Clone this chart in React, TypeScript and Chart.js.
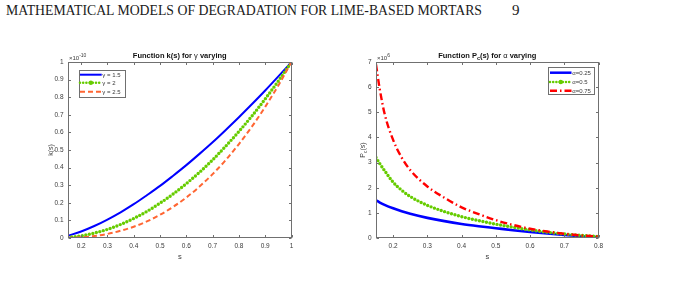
import React, { useEffect, useRef } from "react";
import { Chart, registerables } from "chart.js";

Chart.register(...registerables);

// ---------- data: left plot, k(s) (units of 1e-10) ----------
const kS = [0.15, 0.2, 0.25, 0.3, 0.35, 0.4, 0.45, 0.5, 0.55, 0.6, 0.65, 0.7, 0.75, 0.8, 0.85, 0.9, 0.95, 1];
const kGamma15 = [0.013, 0.037, 0.068, 0.105, 0.146, 0.192, 0.243, 0.296, 0.354, 0.414, 0.478, 0.544, 0.614, 0.686, 0.761, 0.838, 0.918, 1];
const kGamma2 = [0.003, 0.012, 0.028, 0.049, 0.077, 0.111, 0.151, 0.198, 0.25, 0.309, 0.373, 0.444, 0.522, 0.605, 0.694, 0.79, 0.892, 1];
const kGamma25 = [0.001, 0.004, 0.011, 0.023, 0.041, 0.064, 0.094, 0.132, 0.177, 0.23, 0.292, 0.363, 0.443, 0.534, 0.634, 0.745, 0.867, 1];
const kXTicks = [0.2, 0.3, 0.4, 0.5, 0.6, 0.7, 0.8, 0.9, 1];
const kYTicks = [0, 0.1, 0.2, 0.3, 0.4, 0.5, 0.6, 0.7, 0.8, 0.9, 1];
const kLabels = ["γ = 1.5", "γ = 2", "γ = 2.5"];

// ---------- data: right plot, P_c(s) (units of 1e6) ----------
const pS = [0.15, 0.16, 0.175, 0.2, 0.225, 0.25, 0.3, 0.35, 0.4, 0.45, 0.5, 0.55, 0.6, 0.65, 0.7, 0.75, 0.8];
const pAlpha025 = [1.5, 1.42, 1.32, 1.18, 1.06, 0.96, 0.8, 0.67, 0.56, 0.47, 0.39, 0.31, 0.24, 0.18, 0.12, 0.07, 0.03];
const pAlpha05 = [3.2, 2.98, 2.68, 2.22, 1.9, 1.65, 1.3, 1.05, 0.85, 0.69, 0.55, 0.43, 0.32, 0.23, 0.16, 0.1, 0.06];
const pAlpha075 = [6.9, 6.0, 4.95, 3.9, 3.2, 2.7, 2.05, 1.6, 1.22, 0.95, 0.71, 0.52, 0.37, 0.26, 0.17, 0.1, 0.06];
const pXTicks = [0.2, 0.3, 0.4, 0.5, 0.6, 0.7, 0.8];
const pYTicks = [0, 1, 2, 3, 4, 5, 6, 7];
const pLabels = ["α=0.25", "α=0.5", "α=0.75"];

// ---------- styles ----------
const FONT = '"Liberation Sans", Arial, Helvetica, sans-serif';
const AXIS_COLOR = "#707070";
const TEXT_COLOR = "#3a3a3a";
const BLUE = "#0000ff";
const GREEN = "#66cc00";
const ORANGE = "#ff6633";
const RED = "#ff0000";

type Part = { t: string; size: number; bold?: boolean; dy?: number };
type LegendItem = { parts: Part[]; color: string; width: number; dash: number[]; cap?: CanvasLineCap; marker?: boolean };
type Decor = {
  title: Part[];
  exponent: Part[];
  yLabel: Part[];
  yLabelOffset: number;
  xLabel: Part[];
  xTicks: number[];
  yTicks: number[];
  legend: {
    dx: number; dy: number; fromRight: boolean; w: number; h: number;
    rows: number[]; line0: number; line1: number; text: number;
    items: LegendItem[];
  };
};

function fontOf(p: Part) {
  return `${p.bold ? "bold " : ""}${p.size}px ${FONT}`;
}

function drawRich(ctx: CanvasRenderingContext2D, parts: Part[], x: number, y: number, align: "left" | "center") {
  let total = 0;
  for (const p of parts) {
    ctx.font = fontOf(p);
    total += ctx.measureText(p.t).width;
  }
  let cx = align === "center" ? x - total / 2 : x;
  ctx.textAlign = "left";
  ctx.textBaseline = "alphabetic";
  for (const p of parts) {
    ctx.font = fontOf(p);
    ctx.fillText(p.t, cx, y + (p.dy || 0));
    cx += ctx.measureText(p.t).width;
  }
}

const decorPlugin = {
  id: "decor",
  afterDraw(chart: any, _args: any, opts: Decor) {
    const { ctx, chartArea: a, scales } = chart;
    const xs = scales.x;
    const ys = scales.y;
    ctx.save();
    ctx.setLineDash([]);
    ctx.strokeStyle = AXIS_COLOR;
    ctx.lineWidth = 1;
    const L = Math.round(a.left) + 0.5;
    const R = Math.round(a.right) - 0.5;
    const T = Math.round(a.top) + 0.5;
    const B = Math.round(a.bottom) - 0.5;
    ctx.strokeRect(L, T, R - L, B - T);
    const tl = 2.5;
    ctx.beginPath();
    for (const v of opts.xTicks) {
      const px = Math.round(xs.getPixelForValue(v)) + 0.5;
      ctx.moveTo(px, B); ctx.lineTo(px, B - tl);
      ctx.moveTo(px, T); ctx.lineTo(px, T + tl);
    }
    for (const v of opts.yTicks) {
      const py = Math.round(ys.getPixelForValue(v)) + 0.5;
      ctx.moveTo(L, py); ctx.lineTo(L + tl, py);
      ctx.moveTo(R, py); ctx.lineTo(R - tl, py);
    }
    ctx.stroke();

    // title
    ctx.fillStyle = "#111";
    drawRich(ctx, opts.title, (a.left + a.right) / 2, a.top - 4, "center");
    // exponent
    ctx.fillStyle = TEXT_COLOR;
    drawRich(ctx, opts.exponent, a.left + 1, a.top - 2.5, "left");
    // x label
    drawRich(ctx, opts.xLabel, (a.left + a.right) / 2, a.bottom + 21, "center");
    // y label
    ctx.save();
    ctx.translate(a.left - opts.yLabelOffset, (a.top + a.bottom) / 2);
    ctx.rotate(-Math.PI / 2);
    drawRich(ctx, opts.yLabel, 0, 2.5, "center");
    ctx.restore();

    // legend
    const lg = opts.legend;
    const bx = lg.fromRight ? a.right - lg.dx : a.left + lg.dx;
    const by = a.top + lg.dy;
    ctx.fillStyle = "#ffffff";
    ctx.fillRect(bx, by, lg.w, lg.h);
    ctx.strokeStyle = AXIS_COLOR;
    ctx.lineWidth = 1;
    ctx.strokeRect(Math.round(bx) + 0.5, Math.round(by) + 0.5, Math.round(lg.w), Math.round(lg.h));
    lg.items.forEach((it, i) => {
      const ry = by + lg.rows[i];
      ctx.save();
      ctx.strokeStyle = it.color;
      ctx.lineWidth = it.width;
      ctx.setLineDash(it.dash);
      ctx.lineCap = it.cap || "butt";
      ctx.beginPath();
      ctx.moveTo(bx + lg.line0, ry);
      ctx.lineTo(bx + lg.line1, ry);
      ctx.stroke();
      if (it.marker) {
        ctx.setLineDash([]);
        ctx.fillStyle = it.color;
        ctx.beginPath();
        ctx.arc(bx + (lg.line0 + lg.line1) / 2, ry, 2.2, 0, Math.PI * 2);
        ctx.fill();
      }
      ctx.restore();
      ctx.fillStyle = TEXT_COLOR;
      drawRich(ctx, it.parts, bx + lg.text, ry + 2.2, "left");
    });
    ctx.restore();
  },
};

function series(xs: number[], ys: number[]) {
  return xs.map((x, i) => ({ x, y: ys[i] }));
}

function axis(min: number, max: number, ticks: number[], fit: (s: any) => void, padding: number) {
  return {
    type: "linear",
    min,
    max,
    grid: { display: false, drawTicks: false },
    border: { display: false },
    afterBuildTicks: (s: any) => {
      s.ticks = ticks.map((v) => ({ value: v }));
    },
    afterFit: fit,
    ticks: {
      autoSkip: false,
      maxRotation: 0,
      padding,
      color: TEXT_COLOR,
      font: { family: FONT, size: 6.5 },
      callback: (v: any) => String(v),
    },
  };
}

function leftConfig(): any {
  const items: LegendItem[] = [
    { parts: [{ t: kLabels[0], size: 6 }], color: BLUE, width: 2, dash: [] },
    { parts: [{ t: kLabels[1], size: 6 }], color: GREEN, width: 2.6, dash: [0, 3.2], cap: "round", marker: true },
    { parts: [{ t: kLabels[2], size: 6 }], color: ORANGE, width: 2, dash: [5, 3] },
  ];
  const decor: Decor = {
    title: [
      { t: "Function k(s) for ", size: 7.5, bold: true },
      { t: "γ", size: 7.5 },
      { t: " varying", size: 7.5, bold: true },
    ],
    exponent: [{ t: "×10", size: 6 }, { t: "-10", size: 5, dy: -3 }],
    yLabel: [{ t: "k(s)", size: 7 }],
    yLabelOffset: 18,
    xLabel: [{ t: "s", size: 7.5 }],
    xTicks: kXTicks,
    yTicks: kYTicks,
    legend: { dx: 11, dy: 8, fromRight: false, w: 46, h: 27, rows: [12.7, 20.7, 29.7].map((r) => r - 8), line0: 1, line1: 22.7, text: 23.3, items },
  };
  return {
    type: "line",
    data: {
      datasets: [
        { label: kLabels[0], data: series(kS, kGamma15), borderColor: BLUE, borderWidth: 2, pointRadius: 0, cubicInterpolationMode: "monotone", order: 3 },
        { label: kLabels[1], data: series(kS, kGamma2), borderColor: GREEN, borderWidth: 3.4, borderDash: [0, 3.6], borderCapStyle: "round", pointRadius: 0, cubicInterpolationMode: "monotone", order: 2 },
        { label: kLabels[2], data: series(kS, kGamma25), borderColor: ORANGE, borderWidth: 2, borderDash: [5, 3], pointRadius: 0, cubicInterpolationMode: "monotone", order: 1 },
      ],
    },
    options: {
      responsive: false,
      animation: false,
      events: [],
      layout: { padding: { top: 32, right: 28.5, left: 0, bottom: 0 } },
      plugins: { legend: { display: false }, tooltip: { enabled: false }, title: { display: false }, decor },
      scales: {
        x: axis(0.15, 1, kXTicks, (s: any) => { s.height = 32; }, 4),
        y: axis(0, 1, kYTicks, (s: any) => { s.width = 68; }, 4.5),
      },
    },
    plugins: [decorPlugin],
  };
}

function rightConfig(): any {
  const items: LegendItem[] = [
    { parts: [{ t: pLabels[0], size: 6 }], color: BLUE, width: 2.5, dash: [] },
    { parts: [{ t: pLabels[1], size: 6 }], color: GREEN, width: 2.6, dash: [0, 3.2], cap: "round", marker: true },
    { parts: [{ t: pLabels[2], size: 6 }], color: RED, width: 2.5, dash: [7, 3, 1.5, 3] },
  ];
  const decor: Decor = {
    title: [
      { t: "Function P", size: 7.5, bold: true },
      { t: "c", size: 5.5, bold: true, dy: 2 },
      { t: "(s) for ", size: 7.5, bold: true },
      { t: "α", size: 7.5 },
      { t: " varying", size: 7.5, bold: true },
    ],
    exponent: [{ t: "×10", size: 6 }, { t: "6", size: 5, dy: -3 }],
    yLabel: [{ t: "P", size: 7 }, { t: "c", size: 5, dy: 2 }, { t: "(s)", size: 7 }],
    yLabelOffset: 14,
    xLabel: [{ t: "s", size: 7.5 }],
    xTicks: pXTicks,
    yTicks: pYTicks,
    legend: { dx: 51, dy: 5, fromRight: true, w: 45.5, h: 27, rows: [10.7, 20, 28.7].map((r) => r - 5), line0: 2.5, line1: 24, text: 24.8, items },
  };
  return {
    type: "line",
    data: {
      datasets: [
        { label: pLabels[0], data: series(pS, pAlpha025), borderColor: BLUE, borderWidth: 2.6, pointRadius: 0, cubicInterpolationMode: "monotone", order: 3 },
        { label: pLabels[1], data: series(pS, pAlpha05), borderColor: GREEN, borderWidth: 3.4, borderDash: [0, 3.6], borderCapStyle: "round", pointRadius: 0, cubicInterpolationMode: "monotone", order: 2 },
        { label: pLabels[2], data: series(pS, pAlpha075), borderColor: RED, borderWidth: 2.4, borderDash: [7, 3, 1.5, 3], pointRadius: 0, cubicInterpolationMode: "monotone", order: 1 },
      ],
    },
    options: {
      responsive: false,
      animation: false,
      events: [],
      layout: { padding: { top: 32, right: 41.5, left: 0, bottom: 0 } },
      plugins: { legend: { display: false }, tooltip: { enabled: false }, title: { display: false }, decor },
      scales: {
        x: axis(0.15, 0.8, pXTicks, (s: any) => { s.height = 32; }, 4),
        y: axis(0, 7, pYTicks, (s: any) => { s.width = 46; }, 4.5),
      },
    },
    plugins: [decorPlugin],
  };
}

function Plot({ make, left, top, width, height }: { make: () => any; left: number; top: number; width: number; height: number }) {
  const ref = useRef<HTMLCanvasElement>(null);
  useEffect(() => {
    const chart = new Chart(ref.current as HTMLCanvasElement, make());
    return () => chart.destroy();
  }, []);
  return (
    <canvas
      ref={ref}
      width={width}
      height={height}
      style={{ position: "absolute", left, top, width, height, display: "block" }}
    />
  );
}

function Header() {
  const ref = useRef<HTMLSpanElement>(null);
  useEffect(() => {
    const el = ref.current;
    if (!el) return;
    el.style.transform = "none";
    const w = el.getBoundingClientRect().width;
    if (w > 0) el.style.transform = `scaleX(${476 / w})`;
  }, []);
  const base: React.CSSProperties = {
    position: "absolute",
    top: 1,
    fontFamily: '"Liberation Serif", "DejaVu Serif", serif',
    fontSize: 15,
    lineHeight: "18px",
    whiteSpace: "pre",
    color: "#1a1a1a",
    display: "inline-block",
    transformOrigin: "left top",
  };
  return (
    <>
      <span ref={ref} style={{ ...base, left: 6 }}>
        MATHEMATICAL MODELS OF DEGRADATION FOR LIME-BASED MORTARS
      </span>
      <span style={{ ...base, left: 512 }}>9</span>
    </>
  );
}

export default function App() {
  return (
    <div style={{ position: "absolute", left: 0, top: 0, width: 693, height: 288, background: "#fff", overflow: "hidden" }}>
      <Header />
      <Plot make={leftConfig} left={0} top={30} width={320} height={240} />
      <Plot make={rightConfig} left={330} top={30} width={310} height={240} />
    </div>
  );
}
